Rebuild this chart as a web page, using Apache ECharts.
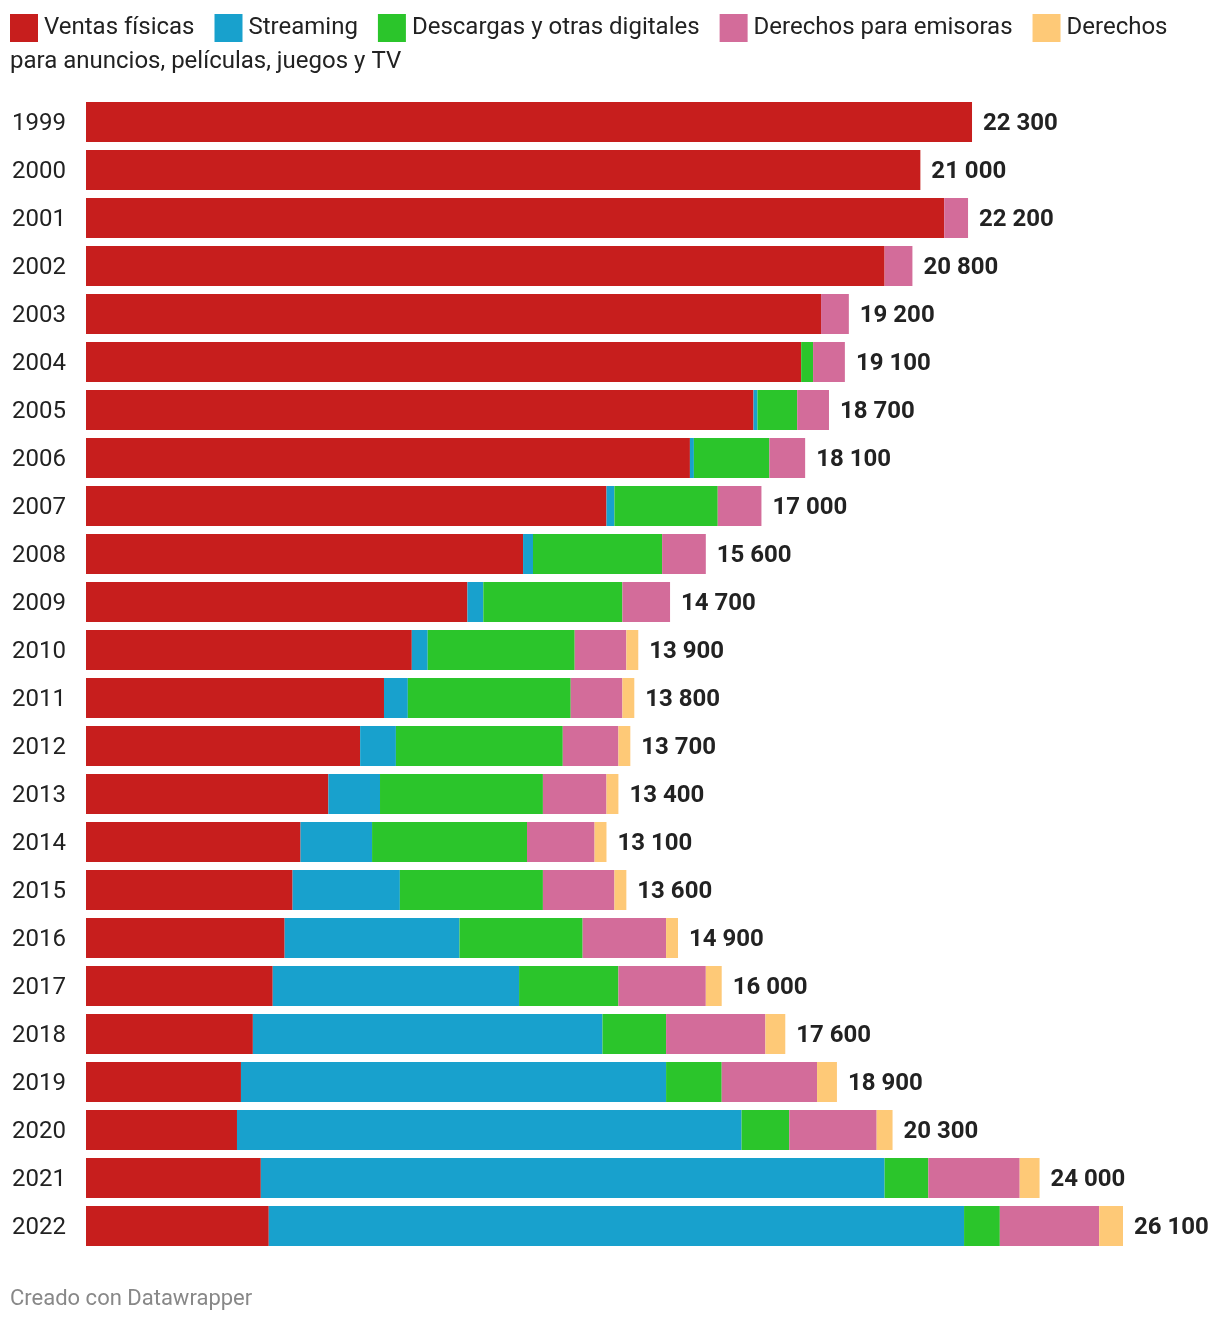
<!DOCTYPE html>
<html>
<head>
<meta charset="utf-8">
<script src="https://cdn.jsdelivr.net/npm/echarts@6/dist/echarts.min.js"></script>
<style>
html,body{margin:0;padding:0;background:#fff;}
#chart{width:1220px;height:1324px;}
</style>
</head>
<body>
<div id="chart"></div>
<script>
const years = ['1999','2000','2001','2002','2003','2004','2005','2006','2007','2008','2009','2010','2011','2012','2013','2014','2015','2016','2017','2018','2019','2020','2021','2022'];
const fisicas   = [22300,21000,21600,20100,18500,18000,16800,15200,13100,11000,9600,8200,7500,6900,6100,5400,5200,5000,4700,4200,3900,3800,4400,4600];
const streaming = [0,0,0,0,0,0,100,100,200,250,400,400,600,900,1300,1800,2700,4400,6200,8800,10700,12700,15700,17500];
const descargas = [0,0,0,0,0,300,1000,1900,2600,3250,3500,3700,4100,4200,4100,3900,3600,3100,2500,1600,1400,1200,1100,900];
const emisoras  = [0,0,600,700,700,800,800,900,1100,1100,1200,1300,1300,1400,1600,1700,1800,2100,2200,2500,2400,2200,2300,2500];
const anuncios  = [0,0,0,0,0,0,0,0,0,0,0,300,300,300,300,300,300,300,400,500,500,400,500,600];
const totals    = [22300,21000,22200,20800,19200,19100,18700,18100,17000,15600,14700,13900,13800,13700,13400,13100,13600,14900,16000,17600,18900,20300,24000,26100];
const seriesNames = ['Ventas físicas','Streaming','Descargas y otras digitales','Derechos para emisoras','Derechos para anuncios, películas, juegos y TV'];
const colors = ['#c71e1d','#18a1cd','#2bc52b','#d36c9a','#fec977'];

const fmt = v => String(v).replace(/\B(?=(\d{3})+(?!\d))/g, ' ');
const FONT = 'Roboto, "Noto Sans", sans-serif';

const chart = echarts.init(document.getElementById('chart'), null, {renderer:'canvas'});
const dataArr = [fisicas, streaming, descargas, emisoras, anuncios];
const maxTotal = Math.max(...totals);

const series = dataArr.map((d,i)=>({
  name: seriesNames[i],
  type: 'bar',
  stack: 'total',
  data: d,
  barWidth: 40,
  itemStyle: {color: colors[i]},
  emphasis: {disabled: true}
}));
series.push({
  name: 'total',
  type: 'bar',
  data: totals,
  barWidth: 40,
  barGap: '-100%',
  z: 0,
  itemStyle: {color: 'rgba(0,0,0,0)'},
  label: {
    show: true,
    position: 'right',
    distance: 11,
    offset: [0, 2],
    formatter: p => fmt(p.value),
    fontFamily: FONT,
    fontSize: 24,
    fontWeight: 'bold',
    color: '#222'
  },
  emphasis: {disabled: true}
});

chart.setOption({
  animation: false,
  color: colors,
  textStyle: {fontFamily: FONT},
  legend: {
    data: seriesNames,
    left: 5,
    top: 9,
    icon: 'rect',
    itemWidth: 28,
    itemHeight: 28,
    itemGap: 20,
    selectedMode: false,
    formatter: n => n.startsWith('Derechos para anuncios') ? 'Derechos' : n,
    textStyle: {fontFamily: FONT, fontSize: 24, color: '#222', padding: [2,0,0,1]}
  },
  graphic: [
    {type:'text', left: 10, top: 50, style:{text:'para anuncios, películas, juegos y TV', font: '24px ' + FONT, fill:'#222'}},
    {type:'text', left: 10, top: 1288, style:{text:'Creado con Datawrapper', font: '22px ' + FONT, fill:'#888'}}
  ],
  grid: {left: 86, top: 98, width: 1037, height: 1152, containLabel: false},
  xAxis: {
    type: 'value',
    min: 0,
    max: maxTotal,
    show: false
  },
  yAxis: {
    type: 'category',
    data: years,
    inverse: true,
    axisLine: {show:false},
    axisTick: {show:false},
    axisLabel: {
      margin: 74,
      align: 'left',
      fontFamily: FONT,
      fontSize: 24,
      color: '#222',
      formatter: v => '{y|' + v + '}',
      rich: {y: {fontFamily: FONT, fontSize: 24, color: '#222', padding: [4,0,0,0]}}
    }
  },
  series: series
});
</script>
</body>
</html>
